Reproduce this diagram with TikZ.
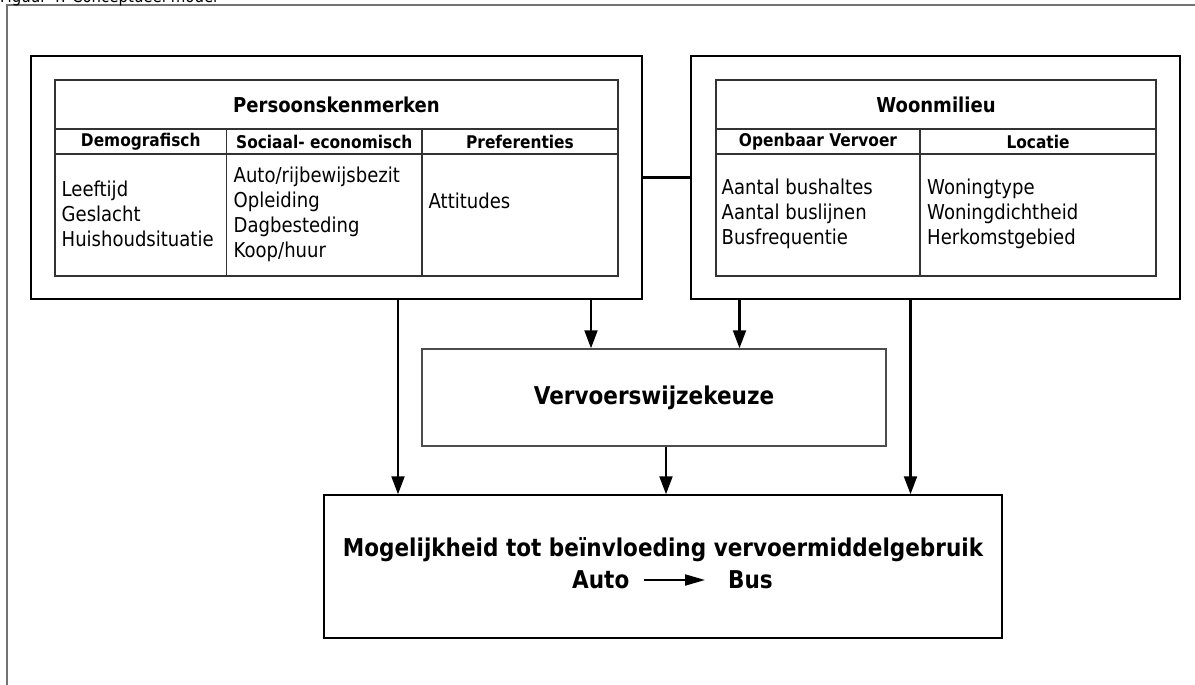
\documentclass[tikz,border=0pt]{standalone}
\usepackage{fontspec}
\setmainfont{DejaVu Sans}[FakeStretch=0.88]
\usepackage{tikz}
\usetikzlibrary{arrows.meta}

\begin{document}
\begin{tikzpicture}[x=1pt, y=-1pt,
    every node/.style={inner sep=0pt, font=\fontsize{20.5}{25}\selectfont},
    kader/.style={draw, line width=2.4pt},
    blok/.style={draw, line width=1.5pt},
    tabel/.style={draw=black!80, line width=1.4pt},
    kop/.style={font=\bfseries\fontsize{20.5}{25}\selectfont},
    subkop/.style={font=\bfseries\fontsize{17.5}{20}\selectfont},
    cel/.style={anchor=west, align=left},
    groot/.style={font=\bfseries\fontsize{24.5}{30}\selectfont},
    pijl/.style={line width=2.2pt, -{Triangle[length=18pt,width=13pt]}}]
    \useasboundingbox (0,0) rectangle (1195,685);
    \fill[white] (0,0) rectangle (1195,685);
    \clip (0,0) rectangle (1195,685);
    % kader rond de figuur
    \draw[black!55, line width=1.5pt] (7,700) -- (7,5) -- (1210,5);
    \node[anchor=base west, font=\fontsize{17}{20}\selectfont] (titel) at (0,3) {Figuur 4: Conceptueel model};
    % hoofdblokken
    \node[kader, minimum width=611pt, minimum height=243pt] (persoon) at (336.5,177.5) {};
    \node[kader, minimum width=489pt, minimum height=243pt] (woon) at (935.5,177.5) {};
    \node[blok, draw=black!70, minimum width=464pt, minimum height=97pt, groot] (keuze) at (654,397.5) {Vervoerswijzekeuze};
    \node[blok, minimum width=678pt, minimum height=143pt] (gebruik) at (663,566.5) {};
    % tabel persoonskenmerken
    \draw[tabel] (55,80) rectangle (618,276);
    \draw[tabel] (55,129) -- (618,129) (55,154) -- (618,154);
    \draw[tabel] (226.5,129) -- (226.5,276) (422,129) -- (422,276);
    \node[kop] (pkop) at (336.5,104.5) {Persoonskenmerken};
    \node[subkop] (demo) at (140.75,141.5) {Demografisch};
    \node[subkop] (soc) at (324.25,141.5) {Sociaal- economisch};
    \node[subkop] (pref) at (520,141.5) {Preferenties};
    \node[cel] (democel) at (61.5,214) {Leeftijd\\Geslacht\\Huishoudsituatie};
    \node[cel] (soccel) at (233.5,214) {Auto/rijbewijsbezit\\Opleiding\\Dagbesteding\\Koop/huur};
    \node[cel] (prefcel) at (428.5,201) {Attitudes};
    % tabel woonmilieu
    \draw[tabel] (716,80) rectangle (1156,276);
    \draw[tabel] (716,129) -- (1156,129) (716,154) -- (1156,154);
    \draw[tabel] (920,129) -- (920,276);
    \node[kop] (wkop) at (936,104.5) {Woonmilieu};
    \node[subkop] (ov) at (818,141.5) {Openbaar Vervoer};
    \node[subkop] (loc) at (1038,141.5) {Locatie};
    \node[cel] (ovcel) at (721.5,214) {Aantal bushaltes\\Aantal buslijnen\\Busfrequentie};
    \node[cel] (loccel) at (927,214) {Woningtype\\Woningdichtheid\\Herkomstgebied};
    % onderste blok
    \node[groot] (zin) at (663,550) {Mogelijkheid tot beïnvloeding vervoermiddelgebruik};
    \node[groot, anchor=west] (auto) at (572,580) {Auto};
    \node[groot, anchor=west] (bus) at (728,580) {Bus};
    \draw[line width=2pt, -{Triangle[length=20pt,width=11pt]}] ([xshift=14pt]auto.east) -- ([xshift=-23pt]bus.west);
    % verbindingen
    \draw[line width=2.2pt] (persoon.east) -- (woon.west);
    \draw[pijl] (398,0 |- persoon.south) -- (398,0 |- gebruik.north);
    \draw[pijl] (591,0 |- persoon.south) -- (591,0 |- keuze.north);
    \draw[pijl] (739.5,0 |- woon.south) -- (739.5,0 |- keuze.north);
    \draw[pijl] (910.5,0 |- woon.south) -- (910.5,0 |- gebruik.north);
    \draw[pijl] (666,0 |- keuze.south) -- (666,0 |- gebruik.north);
\end{tikzpicture}
\end{document}
